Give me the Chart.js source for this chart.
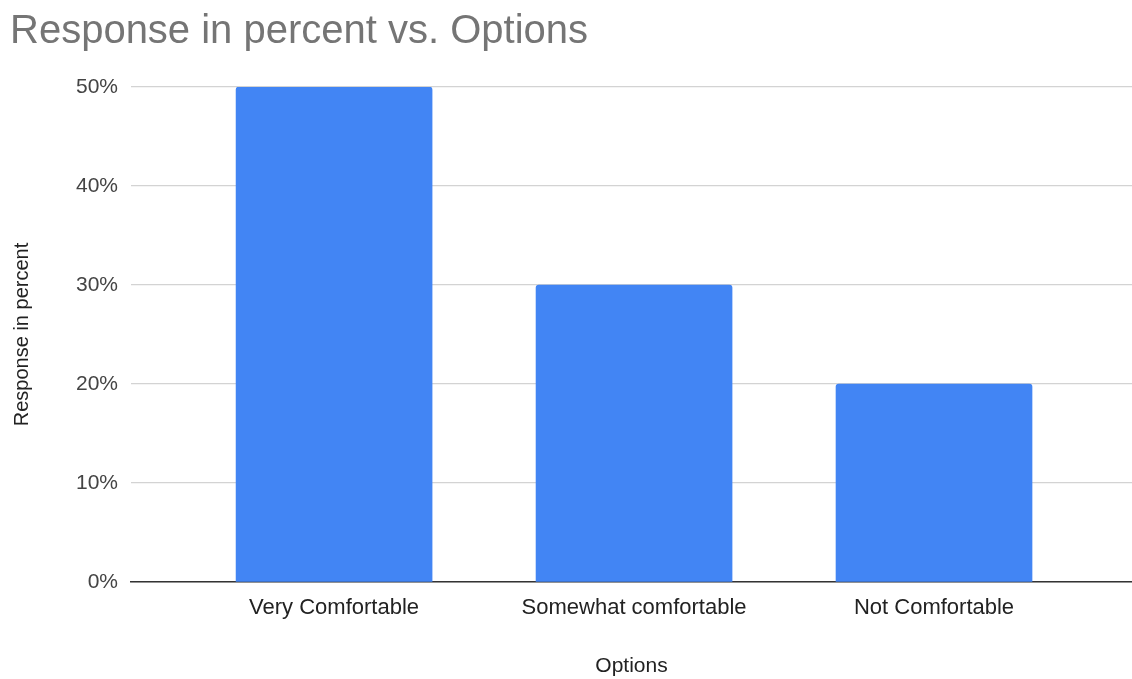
<!DOCTYPE html>
<html>
<head>
<meta charset="utf-8">
<script src="https://cdn.jsdelivr.net/npm/chart.js"></script>
<style>
  html, body { margin: 0; padding: 0; background: #fff; }
  #wrap { width: 1132px; height: 679px; }
</style>
</head>
<body>
<div id="wrap"><canvas id="c" width="1132" height="679"></canvas></div>
<script>
const categories = ["Very Comfortable", "Somewhat comfortable", "Not Comfortable"];
const responses = [50, 30, 20];
const yTicks = [0, 10, 20, 30, 40, 50];

const FONT = "'Liberation Sans', Arial, sans-serif";

// bars sit on a numeric index axis so the spacing matches the original layout
const points = responses.map((v, i) => ({x: i, y: v}));

new Chart(document.getElementById("c").getContext("2d"), {
    type: "bar",
    data: {
        datasets: [{
            label: "Response in percent",
            data: points,
            backgroundColor: "#4285f4",
            borderWidth: 0,
            borderRadius: {topLeft: 3, topRight: 3, bottomLeft: 0, bottomRight: 0},
            borderSkipped: false,
            barThickness: 196
        }]
    },
    options: {
        responsive: false,
        animation: false,
        layout: {padding: {left: 10, right: 0, top: 0, bottom: 0}},
        plugins: {
            legend: {display: false},
            tooltip: {enabled: false},
            title: {
                display: true,
                text: "Response in percent vs. Options",
                align: "start",
                color: "#757575",
                font: {family: FONT, size: 40, weight: "normal"},
                padding: {top: 8, bottom: 31}
            }
        },
        scales: {
            x: {
                type: "linear",
                offset: false,
                min: -0.677,
                max: 2.66,
                afterBuildTicks: s => { s.ticks = categories.map((c, i) => ({value: i})); },
                afterFit: s => { s.height = 97; },
                ticks: {
                    callback: v => categories[v],
                    color: "#222",
                    font: {family: FONT, size: 22},
                    padding: 5,
                    maxRotation: 0,
                    autoSkip: false
                },
                grid: {display: false, offset: false},
                border: {display: true, color: "#333", width: 1.5},
                title: {
                    display: true,
                    text: "Options",
                    color: "#222",
                    font: {family: FONT, size: 21},
                    padding: {top: 0, bottom: 0}
                }
            },
            y: {
                min: 0,
                max: 50,
                afterBuildTicks: s => { s.ticks = yTicks.map(v => ({value: v})); },
                afterFit: s => { s.width = 121; },
                ticks: {
                    callback: v => v + "%",
                    color: "#444",
                    font: {family: FONT, size: 21},
                    padding: 13
                },
                grid: {color: "#d3d3d3", lineWidth: 1.2, drawTicks: false},
                border: {display: false},
                title: {
                    display: true,
                    text: "Response in percent",
                    color: "#222",
                    font: {family: FONT, size: 20},
                    padding: {top: 0, bottom: 0}
                }
            }
        }
    }
});
</script>
</body>
</html>
